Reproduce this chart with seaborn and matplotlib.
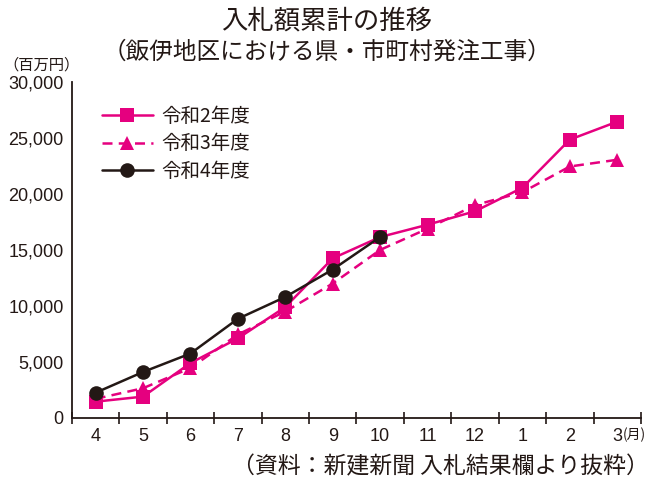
import matplotlib
matplotlib.use("Agg")
import matplotlib.pyplot as plt
import seaborn as sns
import pandas as pd
import numpy as np
from matplotlib import font_manager

months = ["4", "5", "6", "7", "8", "9", "10", "11", "12", "1", "2", "3"]
r2 = [1450, 1900, 4900, 7100, 9900, 14250, 16150, 17250, 18450, 20550, 24850, 26450]
r3 = [1700, 2650, 4450, 7450, 9500, 12000, 15000, 16900, 19000, 20150, 22450, 23050]
r4 = [2250, 4100, 5750, 8850, 10800, 13250, 16150]
series_names = ["令和2年度", "令和3年度", "令和4年度"]
yticks = [0, 5000, 10000, 15000, 20000, 25000, 30000]

sns.set_theme(style="white")
names = {f.name for f in font_manager.fontManager.ttflist}
num_font = "Liberation Sans Narrow" if "Liberation Sans Narrow" in names else "Liberation Sans"
plt.rcParams['font.family'] = ['Noto Sans CJK JP', 'DejaVu Sans']

PINK = "#E5007F"
BLACK = "#231815"

frames = []
for name, vals in zip(series_names, [r2, r3, r4]):
    frames.append(pd.DataFrame({"pos": np.arange(len(vals)), "value": vals, "series": name}))
df = pd.concat(frames, ignore_index=True)

fig = plt.figure(figsize=(6.54, 4.82), dpi=100)
ax = fig.add_axes([0.110, 0.133, 0.870, 0.697])

styles = {
    "令和2年度": dict(color=PINK, marker="s", linestyle="-", markersize=10.5),
    "令和3年度": dict(color=PINK, marker="^", linestyle=(0, (4, 2.5)), markersize=10.5),
    "令和4年度": dict(color=BLACK, marker="o", linestyle="-", markersize=10.5),
}
for name in series_names:
    st = styles[name]
    sns.lineplot(data=df[df.series == name], x="pos", y="value", ax=ax,
                 color=st["color"], marker=st["marker"], linestyle=st["linestyle"],
                 markersize=st["markersize"], markeredgewidth=0, linewidth=1.8,
                 label=name, estimator=None)

ax.set_xlim(-0.5, 11.5)
ax.set_ylim(0, 30000)
ax.set_xlabel("")
ax.set_ylabel("")
for s in ["top", "right"]:
    ax.spines[s].set_visible(False)
for s in ["left", "bottom"]:
    ax.spines[s].set_color("#231815")
    ax.spines[s].set_linewidth(1.3)

ax.set_yticks(yticks)
ax.set_yticklabels([f"{v:,}" for v in yticks], fontfamily=num_font, fontsize=13)
ax.tick_params(axis="y", direction="in", length=5, width=1.2, color="#231815", pad=6, labelcolor="#231815")

ax.set_xticks(np.arange(12))
ax.set_xticklabels(months, fontfamily=num_font, fontsize=13)
ax.tick_params(axis="x", which="major", length=0, pad=7, labelcolor="#231815")
ax.set_xticks(np.arange(-0.5, 12, 1), minor=True)
ax.tick_params(axis="x", which="minor", direction="inout", length=9, width=1.2, color="#231815", bottom=True)

leg = ax.legend(loc="upper left", bbox_to_anchor=(0.022, 0.98), frameon=False,
                handlelength=2.6, handletextpad=0.45, labelspacing=0.32,
                prop={"family": ['Noto Sans CJK JP'], "size": 14})
for t in leg.get_texts():
    t.set_color("#231815")

fig.text(0.5, 0.957, "入札額累計の推移", ha="center", va="center", fontsize=19, color="#231815")
fig.text(0.5, 0.891, "（飯伊地区における県・市町村発注工事）", ha="center", va="center", fontsize=17, color="#231815")
fig.text(0.063, 0.866, "（百万円）", ha="center", va="center", fontsize=11, color="#231815")
fig.text(0.952, 0.097, "(月)", ha="left", va="center", fontsize=10, color="#231815")
fig.text(0.992, 0.032, "（資料：新建新聞 入札結果欄より抜粋）", ha="right", va="center", fontsize=16.5, color="#231815")

fig.savefig("out.png", dpi=100)
